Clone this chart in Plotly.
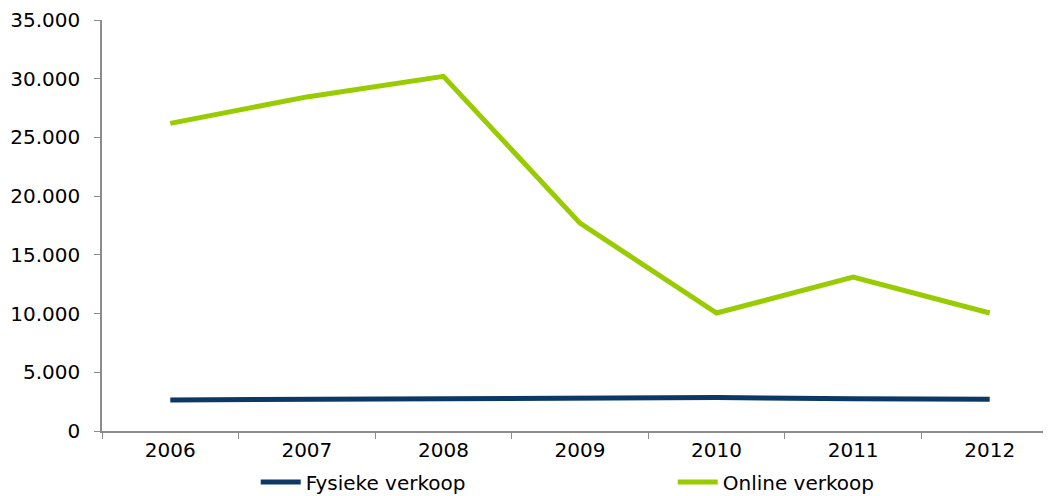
import plotly.graph_objects as go

years = ["2006", "2007", "2008", "2009", "2010", "2011", "2012"]
fysieke = [2650, 2700, 2750, 2850, 2850, 2750, 2700]
online = [26200, 28450, 30200, 17700, 10050, 13100, 10050]
y_ticks = [0, 5000, 10000, 15000, 20000, 25000, 30000, 35000]
y_labels = ["0", "5.000", "10.000", "15.000", "20.000", "25.000", "30.000", "35.000"]

font = dict(family="DejaVu Sans, Verdana, sans-serif", size=20, color="#000000")

fig = go.Figure()
fig.add_trace(go.Scatter(x=years, y=fysieke, mode="lines", name="Fysieke verkoop",
                         line=dict(color="#0b3864", width=5)))
fig.add_trace(go.Scatter(x=years, y=online, mode="lines", name="Online verkoop",
                         line=dict(color="#99cc00", width=5)))

fig.update_layout(
    width=1051, height=496,
    margin=dict(l=94, r=1, t=12, b=73, autoexpand=False),
    paper_bgcolor="white", plot_bgcolor="white",
    font=font,
    showlegend=True,
    legend=dict(orientation="h", x=0.597, xanchor="center", y=0.005, yanchor="bottom",
                yref="container", font=font, entrywidth=362, entrywidthmode="pixels",
                itemwidth=40, tracegroupgap=0),
)
fig.update_xaxes(type="category", range=[-0.5, 6.5], showline=True, linecolor="#8c8c8c",
                 linewidth=1.5, ticks="outside", tickson="boundaries", ticklen=6,
                 tickcolor="#8c8c8c", showgrid=False, zeroline=False, tickfont=font,
                 automargin=False)
fig.update_yaxes(range=[0, 35000], tickvals=y_ticks, ticktext=y_labels, showline=True,
                 linecolor="#8c8c8c", linewidth=1.5, ticks="outside", ticklen=6,
                 tickcolor="#8c8c8c", showgrid=False, zeroline=False, tickfont=font,
                 ticklabelstandoff=10, automargin=False)

fig.write_html("out.html")
